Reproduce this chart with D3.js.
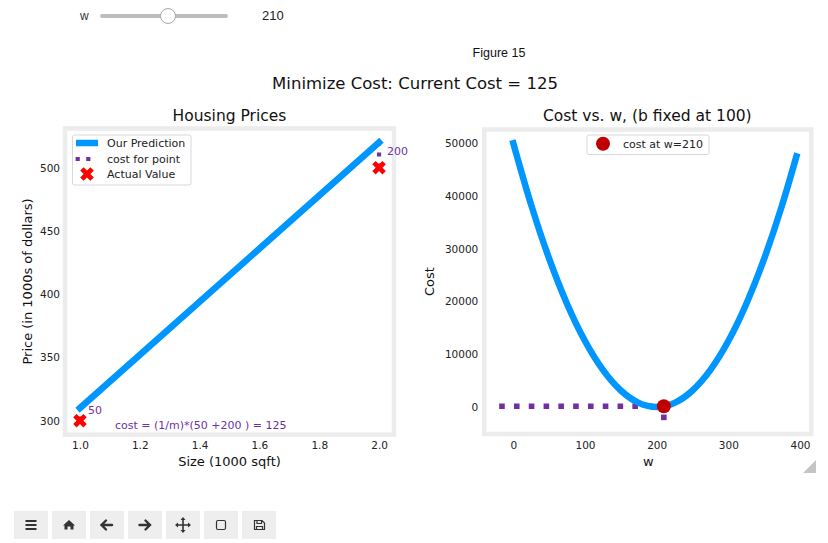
<!DOCTYPE html>
<html lang="en">
<head>
<meta charset="utf-8">
<title>Minimize Cost</title>
<script src="https://cdn.jsdelivr.net/npm/d3@7"></script>
<style>
  body { margin: 0; background: #fff; }
  text { font-family: "DejaVu Sans", sans-serif; }
  .tick text { font-size: 10.5px; fill: #222; }
  .ui { font-family: "Liberation Sans", Arial, sans-serif; }
</style>
</head>
<body>
<script>
// ---- data ----
var xTrain = [1.0, 2.0];            // size (1000 sqft)
var yTrain = [300, 500];            // actual price
var fWb = [310, 520];               // prediction at w = 210, b = 100
var pointCost = [50, 200];          // cost for each point
var wCur = 210;
var costCur = 125;

var wGrid = [0, 25, 50, 75, 100, 125, 150, 175, 200, 225, 250, 275, 300, 325, 350, 375, 395];
var costGrid = [50000, 38281, 28125, 19531, 12500, 7031, 3125, 781, 0, 781, 3125, 7031, 12500, 19531, 28125, 38281, 47531];

var xTicksL = [1.0, 1.2, 1.4, 1.6, 1.8, 2.0];
var yTicksL = [300, 350, 400, 450, 500];
var xTicksR = [0, 100, 200, 300, 400];
var yTicksR = [0, 10000, 20000, 30000, 40000, 50000];

var blue = "#0096ff", purple = "#7030A0", darkred = "#C00000", red = "#FF0000";

var w = 828, h = 543;
var svg = d3.select("body").append("svg").attr("width", w).attr("height", h);

// ---- slider widget ----
svg.append("text").attr("class", "ui").attr("x", 80).attr("y", 20)
  .style("font-size", "12px").attr("fill", "#333").text("w");
svg.append("line").attr("x1", 102).attr("x2", 226).attr("y1", 16).attr("y2", 16)
  .attr("stroke", "#bdbdbd").attr("stroke-width", 4).attr("stroke-linecap", "round");
svg.append("circle").attr("cx", 168).attr("cy", 16).attr("r", 7.5)
  .attr("fill", "#fff").attr("stroke", "#a8a8a8").attr("stroke-width", 1);
svg.append("text").attr("class", "ui").attr("x", 262).attr("y", 20)
  .style("font-size", "13px").attr("fill", "#222").text(wCur);

svg.append("text").attr("class", "ui").attr("x", 499).attr("y", 57)
  .attr("text-anchor", "middle").style("font-size", "12.5px").attr("fill", "#111").text("Figure 15");

svg.append("text").attr("x", 415).attr("y", 89).attr("text-anchor", "middle")
  .style("font-size", "16.5px").attr("fill", "#111")
  .text("Minimize Cost: Current Cost = " + costCur);

// ---- left: housing prices ----
var xL = d3.scaleLinear().domain([0.95, 2.05]).range([65, 394]);
var yL = d3.scaleLinear().domain([289, 531]).range([434.6, 128.5]);

var gL = svg.append("g");
gL.append("rect").attr("x", 65).attr("y", 128.5).attr("width", 329).attr("height", 306.1)
  .attr("fill", "#fff").attr("stroke", "#ececec").attr("stroke-width", 4.5);

gL.append("g").attr("transform", "translate(0,434.6)")
  .call(d3.axisBottom(xL).tickValues(xTicksL).tickSize(0).tickPadding(7).tickFormat(d3.format(".1f")))
  .call(function(g) { g.select(".domain").remove(); });
gL.append("g").attr("transform", "translate(65,0)")
  .call(d3.axisLeft(yL).tickValues(yTicksL).tickSize(0).tickPadding(5))
  .call(function(g) { g.select(".domain").remove(); });

gL.append("text").attr("x", 229.5).attr("y", 121).attr("text-anchor", "middle")
  .style("font-size", "15.5px").attr("fill", "#111").text("Housing Prices");
gL.append("text").attr("x", 229.5).attr("y", 466).attr("text-anchor", "middle")
  .style("font-size", "13px").attr("fill", "#111").text("Size (1000 sqft)");
gL.append("text").attr("transform", "translate(31.5,281.5) rotate(-90)").attr("text-anchor", "middle")
  .style("font-size", "13px").attr("fill", "#111").text("Price (in 1000s of dollars)");

// cost lines for each point
xTrain.forEach(function(x, i) {
  gL.append("line").attr("x1", xL(x)).attr("x2", xL(x))
    .attr("y1", yL(yTrain[i])).attr("y2", yL(fWb[i]))
    .attr("stroke", purple).attr("stroke-width", 4.2).attr("stroke-dasharray", "4.2 6.9");
  gL.append("text").attr("x", xL(x) + 8).attr("y", yL((yTrain[i] + fWb[i]) / 2))
    .style("font-size", "11px").attr("fill", purple).text(pointCost[i]);
});

var predLine = d3.line().x(function(d, i) { return xL(xTrain[i]); }).y(function(d) { return yL(d); });
gL.append("path").datum(fWb).attr("d", predLine).attr("fill", "none")
  .attr("stroke", blue).attr("stroke-width", 6.5).attr("stroke-linecap", "square");

var xMark = d3.symbol().type(d3.symbolCross).size(115);
gL.selectAll(".actual").data(yTrain).enter().append("path")
  .attr("d", xMark)
  .attr("transform", function(d, i) { return "translate(" + xL(xTrain[i]) + "," + yL(d) + ") rotate(45)"; })
  .attr("fill", red);

gL.append("text").attr("x", 115).attr("y", 429).style("font-size", "11px").attr("fill", purple)
  .text("cost = (1/m)*(" + pointCost.join(" +") + " ) = " + costCur);

// legend
var lg = gL.append("g");
lg.append("rect").attr("x", 72.5).attr("y", 135).attr("width", 118.5).attr("height", 50).attr("rx", 2)
  .attr("fill", "#fff").attr("fill-opacity", 0.8).attr("stroke", "#d8d8d8");
lg.append("line").attr("x1", 76).attr("x2", 98).attr("y1", 143).attr("y2", 143)
  .attr("stroke", blue).attr("stroke-width", 6.5);
lg.append("line").attr("x1", 75.6).attr("x2", 91).attr("y1", 159).attr("y2", 159)
  .attr("stroke", purple).attr("stroke-width", 4.2).attr("stroke-dasharray", "4.2 6.4");
lg.append("path").attr("d", xMark).attr("transform", "translate(87,174) rotate(45)").attr("fill", red);
[["Our Prediction", 147], ["cost for point", 163], ["Actual Value", 178]].forEach(function(t) {
  lg.append("text").attr("x", 107).attr("y", t[1]).style("font-size", "11px").attr("fill", "#222").text(t[0]);
});

// ---- right: cost vs w ----
var xR = d3.scaleLinear().domain([-40.49, 415.74]).range([484.3, 811.3]);
var yR = d3.scaleLinear().domain([-5125, 52625]).range([434, 129.5]);

var gR = svg.append("g");
gR.append("rect").attr("x", 484.3).attr("y", 129.5).attr("width", 327).attr("height", 304.5)
  .attr("fill", "#fff").attr("stroke", "#ececec").attr("stroke-width", 4.5);

gR.append("g").attr("transform", "translate(0,434)")
  .call(d3.axisBottom(xR).tickValues(xTicksR).tickSize(0).tickPadding(7.5))
  .call(function(g) { g.select(".domain").remove(); });
gR.append("g").attr("transform", "translate(484.3,0)")
  .call(d3.axisLeft(yR).tickValues(yTicksR).tickSize(0).tickPadding(6).tickFormat(d3.format("d")))
  .call(function(g) { g.select(".domain").remove(); });

gR.append("text").attr("x", 647.3).attr("y", 121).attr("text-anchor", "middle")
  .style("font-size", "15.5px").attr("fill", "#111").text("Cost vs. w, (b fixed at 100)");
gR.append("text").attr("x", 648.3).attr("y", 466).attr("text-anchor", "middle")
  .style("font-size", "13px").attr("fill", "#111").text("w");
gR.append("text").attr("transform", "translate(434,281.5) rotate(-90)").attr("text-anchor", "middle")
  .style("font-size", "13px").attr("fill", "#111").text("Cost");

// dotted guides to the current cost (under the curve)
gR.append("line").attr("x1", xR(-19.75)).attr("x2", xR(wCur)).attr("y1", yR(costCur)).attr("y2", yR(costCur))
  .attr("stroke", purple).attr("stroke-width", 5.6).attr("stroke-dasharray", "5.6 9.2");
gR.append("line").attr("x1", xR(wCur)).attr("x2", xR(wCur)).attr("y1", yR(-2500)).attr("y2", yR(costCur))
  .attr("stroke", purple).attr("stroke-width", 5.6).attr("stroke-dasharray", "5.6 9.2");

var costLine = d3.line().curve(d3.curveMonotoneX)
  .x(function(d, i) { return xR(wGrid[i]); }).y(function(d) { return yR(d); });
gR.append("path").datum(costGrid).attr("d", costLine).attr("fill", "none")
  .attr("stroke", blue).attr("stroke-width", 6.5).attr("stroke-linecap", "square");

gR.append("circle").attr("cx", xR(wCur)).attr("cy", yR(costCur)).attr("r", 7).attr("fill", darkred);

var lgR = gR.append("g");
lgR.append("rect").attr("x", 587).attr("y", 135).attr("width", 122).attr("height", 19.5).attr("rx", 2)
  .attr("fill", "#fff").attr("fill-opacity", 0.8).attr("stroke", "#d8d8d8");
lgR.append("circle").attr("cx", 603).attr("cy", 143.7).attr("r", 7).attr("fill", darkred);
lgR.append("text").attr("x", 623).attr("y", 148).style("font-size", "11px").attr("fill", "#222")
  .text("cost at w=" + wCur);

// resize handle
svg.append("path").attr("d", "M816,460L816,473L803,473Z").attr("fill", "#c4c4c4");

// ---- toolbar ----
var btnX = [14, 52, 90, 128, 166, 204, 242];
var tb = svg.append("g");
tb.selectAll("rect").data(btnX).enter().append("rect")
  .attr("x", function(d) { return d; }).attr("y", 511).attr("width", 34).attr("height", 28)
  .attr("fill", "#eeeeee");
var icon = tb.append("g").attr("fill", "#333").attr("stroke", "#333");
// menu
[-4, 0, 4].forEach(function(dy) {
  icon.append("line").attr("x1", 25.5).attr("x2", 36.5).attr("y1", 525 + dy).attr("y2", 525 + dy)
    .attr("stroke-width", 2);
});
// home
icon.append("path").attr("stroke", "none")
  .attr("d", "M63,525.5L69,520L75,525.5L73.5,525.5L73.5,529.5L70.5,529.5L70.5,526.5L67.5,526.5L67.5,529.5L64.5,529.5L64.5,525.5Z");
// back
icon.append("path").attr("fill", "none").attr("stroke-width", 2.4).attr("stroke-linecap", "round")
  .attr("d", "M112,525L101.5,525M106,520.5L101.5,525L106,529.5");
// forward
icon.append("path").attr("fill", "none").attr("stroke-width", 2.4).attr("stroke-linecap", "round")
  .attr("d", "M139.5,525L150,525M145.5,520.5L150,525L145.5,529.5");
// move
icon.append("path").attr("fill", "none").attr("stroke-width", 1.6)
  .attr("d", "M183,518.5L183,531.5M176.5,525L189.5,525");
icon.append("path").attr("stroke", "none")
  .attr("d", "M183,517L180.5,520L185.5,520Z M183,533L180.5,530L185.5,530Z M175,525L178,522.5L178,527.5Z M191,525L188,522.5L188,527.5Z");
// zoom rect
icon.append("rect").attr("x", 216.5).attr("y", 520.5).attr("width", 9).attr("height", 9).attr("rx", 1.5)
  .attr("fill", "none").attr("stroke-width", 1.2);
// save
icon.append("path").attr("fill", "none").attr("stroke-width", 1.2)
  .attr("d", "M254.5,520.5L262,520.5L264.5,523L264.5,529.5L254.5,529.5Z M257,520.5L257,523.5L261.5,523.5L261.5,520.5 M256.5,529.5L256.5,526.5L262.5,526.5L262.5,529.5");
</script>
</body>
</html>
